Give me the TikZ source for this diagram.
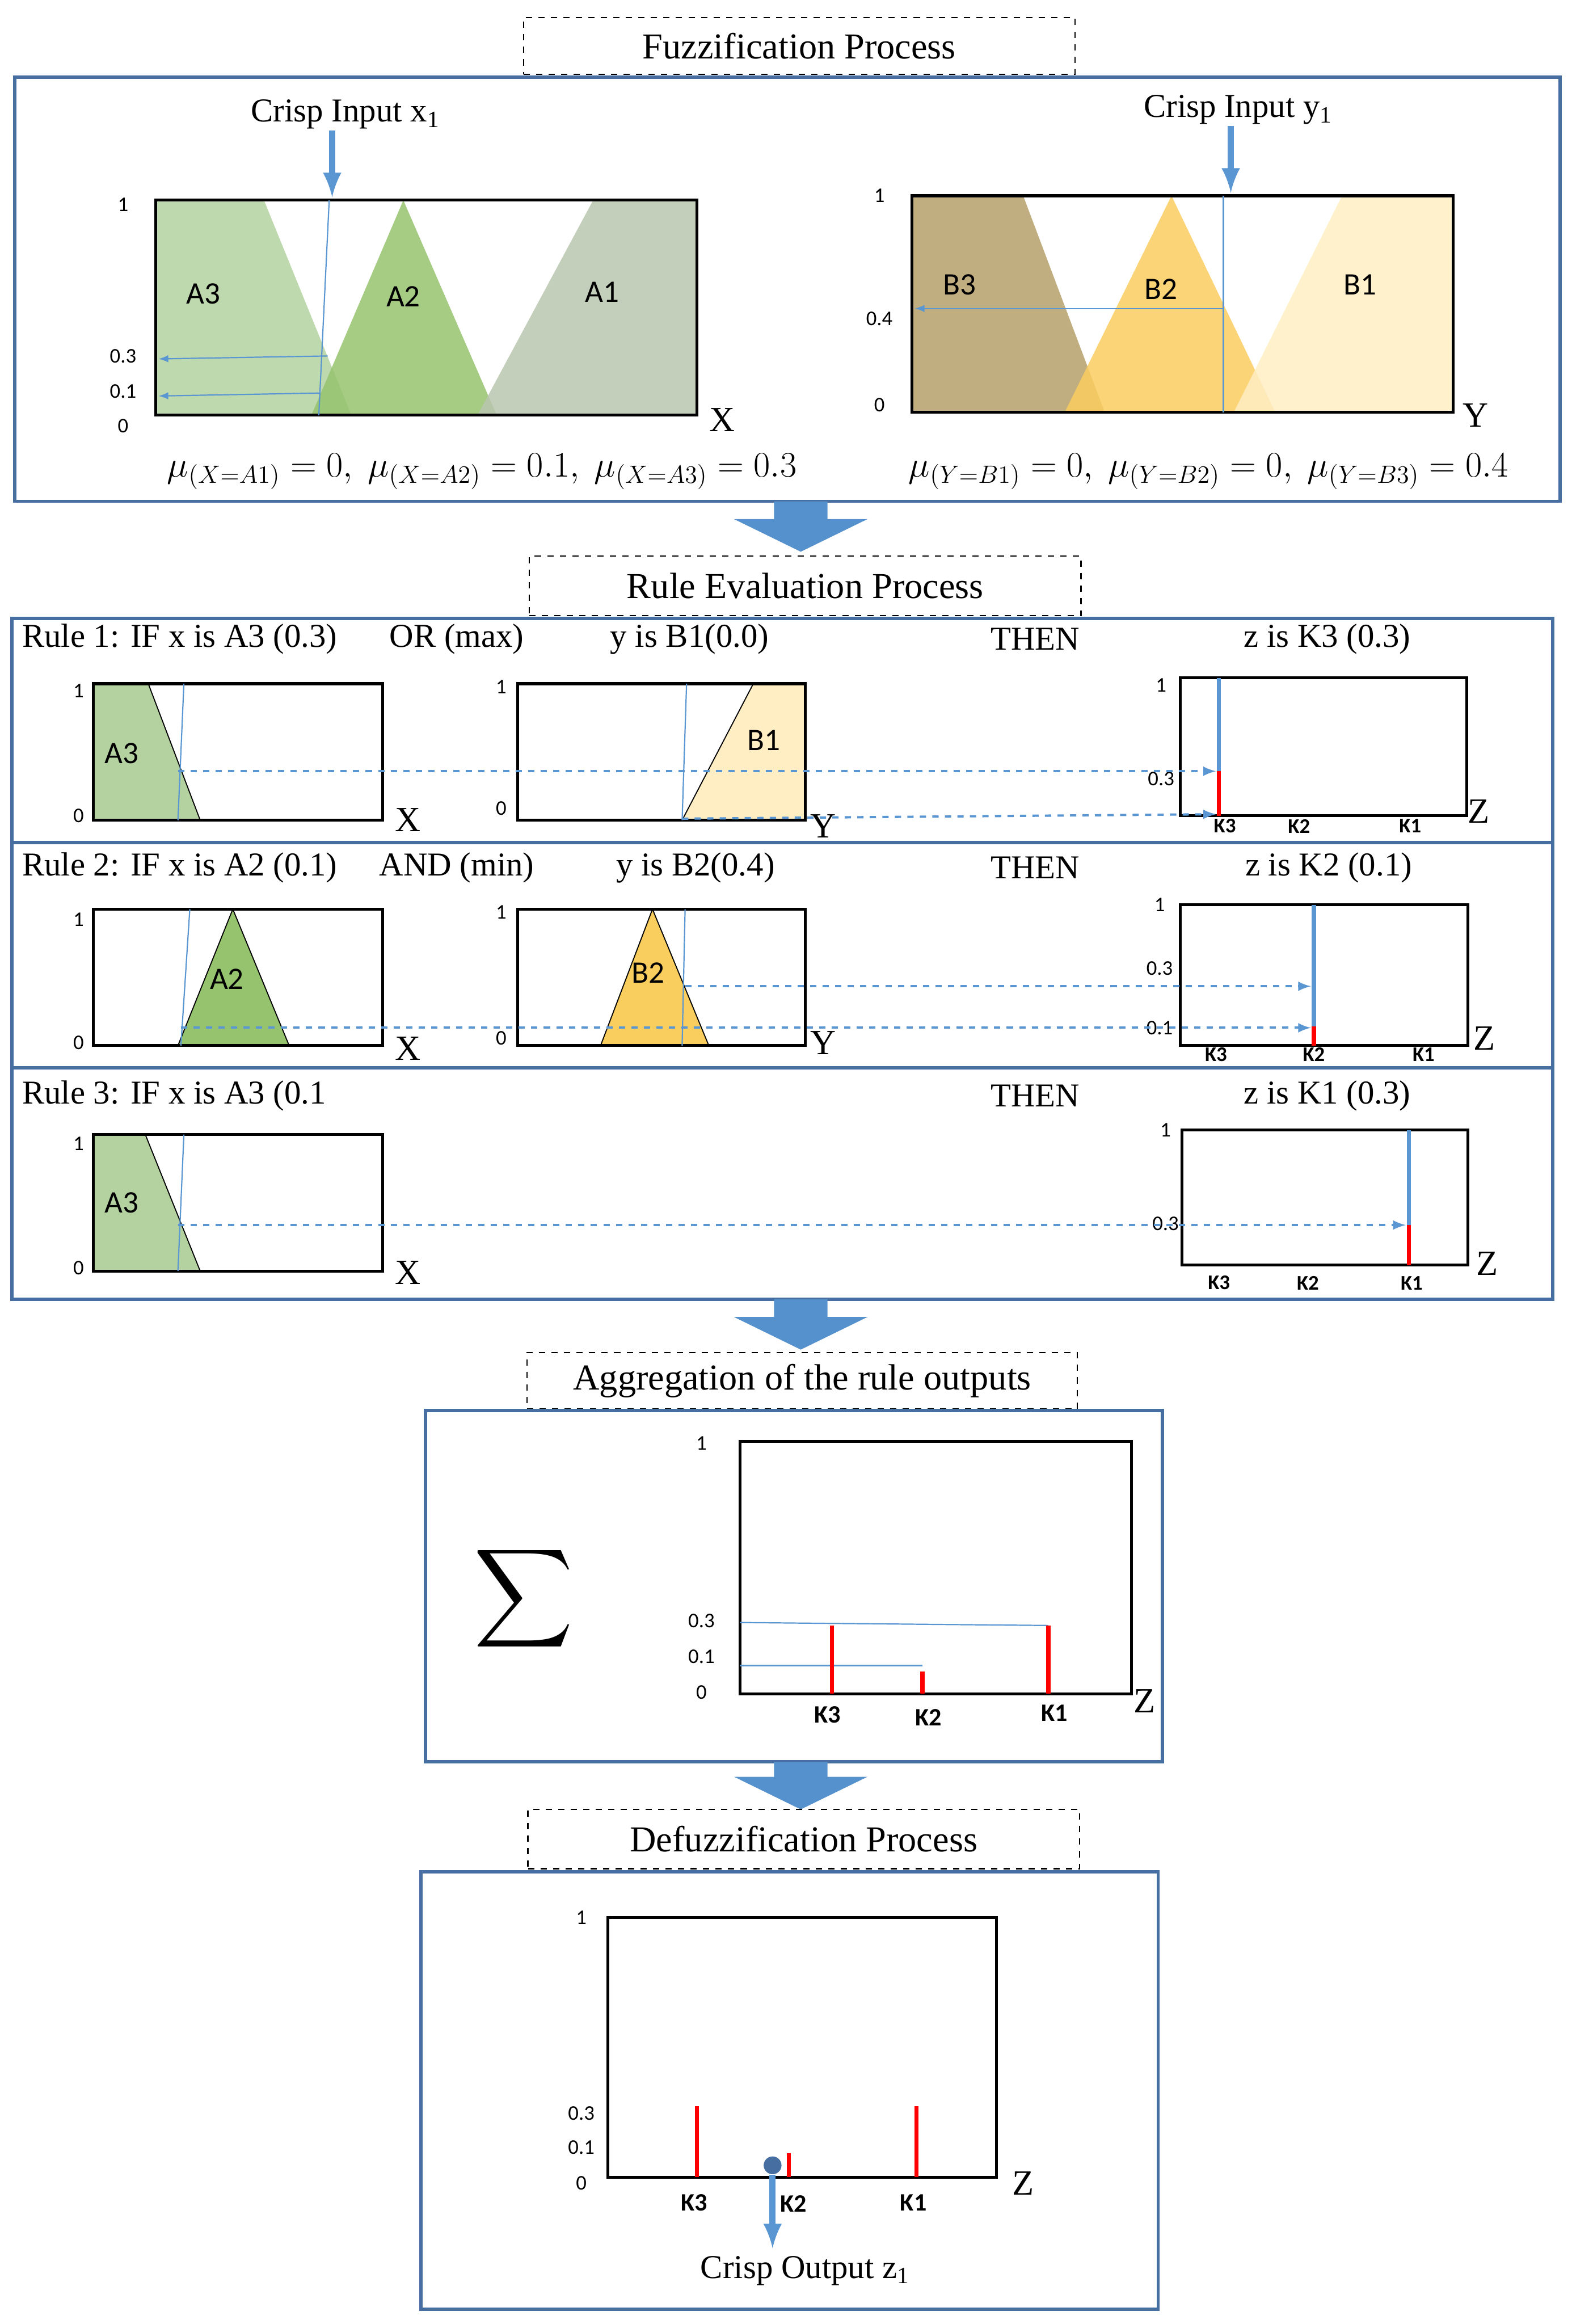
\documentclass[tikz,border=0pt]{standalone}
\usepackage{fontspec}
\setmainfont{Liberation Serif}
\newfontfamily\sans{Carlito}
\begin{document}
\begin{tikzpicture}[x=0.025cm,y=-0.025cm,
 frame/.style={draw=frameblue,line width=1.6pt},
 dbox/.style={draw,dashed,line width=0.6pt},
 plot/.style={draw,line width=1.4pt},
 hd/.style={font=\fontsize{17.5}{19}\selectfont},
 rt/.style={font=\fontsize{16}{18}\selectfont},
 lab/.style={font=\sans\fontsize{15}{17}\selectfont},
 ax/.style={font=\sans\fontsize{10}{11}\selectfont},
 kx/.style={font=\sans\bfseries\fontsize{10}{11}\selectfont},
 kb/.style={font=\sans\bfseries\fontsize{12}{13}\selectfont},
 big/.style={font=\fontsize{17}{19}\selectfont},
 thin/.style={draw=lineblue,line width=0.6pt},
 darr/.style={draw=lineblue,dashed,line width=1.1pt,-latex},
 bl/.style={draw=lineblue,line width=2pt},
 rd/.style={draw=red,line width=2pt},
 blk/.style={fill=arrowblue,draw=none}]
\definecolor{frameblue}{RGB}{70,110,160}
\definecolor{lineblue}{RGB}{90,150,210}
\definecolor{arrowblue}{RGB}{85,145,205}
\definecolor{ga}{RGB}{180,210,160}
\definecolor{gb}{RGB}{150,195,110}
\definecolor{gc}{RGB}{185,198,175}
\definecolor{ba}{RGB}{185,165,115}
\definecolor{bb}{RGB}{250,205,95}
\definecolor{bc}{RGB}{255,238,195}
\useasboundingbox (0,0) rectangle (1060,1567);
% ---------- Fuzzification
\node[dbox,minimum width=372*0.025cm,minimum height=38*0.025cm,hd] (t1) at (539,31) {Fuzzification Process};
\draw[frame] (10,52) rectangle (1052,338);
\fill[ga,opacity=.85] (105,135)--(178,135)--(237,280)--(105,280)--cycle;
\fill[gb,opacity=.85] (210,280)--(272,135)--(335,280)--cycle;
\fill[gc,opacity=.85] (322,280)--(400,135)--(470,135)--(470,280)--cycle;
\draw[plot] (105,135) rectangle (470,280);
\node[lab] (la3) at (137,198) {A3};
\node[lab] (la2) at (272,200) {A2};
\node[lab] (la1) at (406,197) {A1};
\node[ax] (a1) at (83,138) {1};
\node[ax] (a2) at (83,240) {0.3};
\node[ax] (a3) at (83,264) {0.1};
\node[ax] (a4) at (83,287) {0};
\node[big] (lx) at (487,283) {X};
\node[rt] (cx) at (233,77) {Crisp Input x\textsubscript{1}};
\draw[lineblue,line width=3pt,-latex] (224,88)--(224,133);
\draw[thin] (222,135)--(215,280);
\draw[thin,-latex] (221,240)--(107,242);
\draw[thin,-latex] (216,265)--(107,267);
\node[big] (fx) at (325,318) {$\mu_{(X=A1)}=0,\ \mu_{(X=A2)}=0.1,\ \mu_{(X=A3)}=0.3$};
\fill[ba,opacity=.9] (615,132)--(690,132)--(745,278)--(615,278)--cycle;
\fill[bb,opacity=.85] (718,278)--(790,132)--(860,278)--cycle;
\fill[bc,opacity=.85] (832,278)--(905,132)--(980,132)--(980,278)--cycle;
\draw[plot] (615,132) rectangle (980,278);
\node[lab] (lb3) at (647,192) {B3};
\node[lab] (lb2) at (783,195) {B2};
\node[lab] (lb1) at (917,192) {B1};
\node[ax] (b1) at (593,132) {1};
\node[ax] (b2) at (593,215) {0.4};
\node[ax] (b3) at (593,273) {0};
\node[big] (ly) at (995,280) {Y};
\node[rt] (cy) at (835,74) {Crisp Input y\textsubscript{1}};
\draw[lineblue,line width=3pt,-latex] (830,85)--(830,130);
\draw[thin] (825,132)--(825,278);
\draw[thin,-latex] (825,208)--(617,208);
\node[big] (fy) at (815,318) {$\mu_{(Y=B1)}=0,\ \mu_{(Y=B2)}=0,\ \mu_{(Y=B3)}=0.4$};
\fill[blk] (522,338)--(558,338)--(558,350)--(585,350)--(540,372)--(495,350)--(522,350)--cycle;
% ---------- Rule evaluation
\node[dbox,minimum width=372*0.025cm,minimum height=40*0.025cm,hd] (t2) at (543,395) {Rule Evaluation Process};
\draw[frame] (8,417) rectangle (1047,876);
\draw[frame] (8,568)--(1047,568);
\draw[frame] (8,720)--(1047,720);
% rule 1
\node[rt,anchor=west] (r1a) at (10,431) {Rule 1: IF x is A3 (0.3)};
\node[rt] (r1b) at (308,431) {OR (max)};
\node[rt] (r1c) at (465,431) {y is B1(0.0)};
\node[rt] (r1d) at (698,431) {THEN};
\node[rt] (r1e) at (895,431) {z is K3 (0.3)};
\fill[ga] (63,461)--(100,461)--(135,553)--(63,553)--cycle;
\draw[black,line width=0.5pt] (100,461)--(135,553);
\draw[plot] (63,461) rectangle (258,553);
\draw[thin] (124,461)--(120,553);
\node[lab] at (82,508) {A3};
\node[ax] at (53,466) {1};
\node[ax] at (53,550) {0};
\node[big] at (275,553) {X};
\fill[bc] (460,553)--(508,461)--(543,461)--(543,553)--cycle;
\draw[black,line width=0.5pt] (460,553)--(508,461);
\draw[plot] (349,461) rectangle (543,553);
\draw[thin] (463,461)--(460,553);
\node[lab] at (515,499) {B1};
\node[ax] at (338,463) {1};
\node[ax] at (338,545) {0};
\node[big] at (555,557) {Y};
\draw[plot] (796,457) rectangle (989,550);
\draw[bl] (822,457)--(822,520);
\draw[rd] (822,520)--(822,550);
\node[ax] at (783,462) {1};
\node[ax] at (783,525) {0.3};
\node[kx] at (826,557) {K3};
\node[kx] at (876,557) {K2};
\node[kx] at (951,557) {K1};
\node[big] at (997,547) {Z};
\draw[darr] (120,520)--(820,520);
\draw[darr] (460,552)--(820,549);
% rule 2
\node[rt,anchor=west] at (10,585) {Rule 2: IF x is A2 (0.1)};
\node[rt] at (308,585) {AND (min)};
\node[rt] at (469,585) {y is B2(0.4)};
\node[rt] at (698,585) {THEN};
\node[rt] at (896,585) {z is K2 (0.1)};
\fill[gb] (120,705)--(157,613)--(195,705)--cycle;
\draw[black,line width=0.5pt] (120,705)--(157,613)--(195,705);
\draw[plot] (63,613) rectangle (258,705);
\draw[thin] (128,613)--(122,705);
\node[lab] at (153,660) {A2};
\node[ax] at (53,620) {1};
\node[ax] at (53,703) {0};
\node[big] at (275,707) {X};
\fill[bb] (405,705)--(440,613)--(478,705)--cycle;
\draw[black,line width=0.5pt] (405,705)--(440,613)--(478,705);
\draw[plot] (349,613) rectangle (543,705);
\draw[thin] (462,613)--(460,705);
\node[lab] at (437,656) {B2};
\node[ax] at (338,615) {1};
\node[ax] at (338,700) {0};
\node[big] at (555,703) {Y};
\draw[plot] (796,610) rectangle (990,705);
\draw[bl] (886,610)--(886,692);
\draw[rd] (886,692)--(886,705);
\node[ax] at (782,610) {1};
\node[ax] at (782,653) {0.3};
\node[ax] at (782,693) {0.1};
\node[kx] at (820,711) {K3};
\node[kx] at (886,711) {K2};
\node[kx] at (960,711) {K1};
\node[big] at (1001,700) {Z};
\draw[darr] (462,665)--(884,665);
\draw[darr] (122,693)--(884,693);
% rule 3
\node[rt,anchor=west] at (10,739) {Rule 3: IF x is A3 (0.1};
\node[rt] at (698,739) {THEN};
\node[rt] at (895,739) {z is K1 (0.3)};
\fill[ga] (63,765)--(98,765)--(135,857)--(63,857)--cycle;
\draw[black,line width=0.5pt] (98,765)--(135,857);
\draw[plot] (63,765) rectangle (258,857);
\draw[thin] (124,765)--(120,857);
\node[lab] at (82,811) {A3};
\node[ax] at (53,771) {1};
\node[ax] at (53,855) {0};
\node[big] at (275,858) {X};
\draw[plot] (797,762) rectangle (990,853);
\draw[bl] (950,762)--(950,826);
\draw[rd] (950,826)--(950,853);
\node[ax] at (786,762) {1};
\node[ax] at (786,825) {0.3};
\node[kx] at (822,865) {K3};
\node[kx] at (882,865) {K2};
\node[kx] at (952,865) {K1};
\node[big] at (1003,852) {Z};
\draw[darr] (120,826)--(948,826);
\fill[blk] (522,876)--(558,876)--(558,888)--(585,888)--(540,910)--(495,888)--(522,888)--cycle;
% ---------- Aggregation
\node[dbox,minimum width=371*0.025cm,minimum height=38*0.025cm,hd] (t3) at (541,931) {Aggregation of the rule outputs};
\draw[frame] (287,951) rectangle (784,1188);
\node (sig) at (353,1078) {\scalebox{3.3}{$\displaystyle\sum$}};
\draw[plot] (499,972) rectangle (763,1142);
\node[ax] at (473,973) {1};
\node[ax] at (473,1093) {0.3};
\node[ax] at (473,1117) {0.1};
\node[ax] at (473,1141) {0};
\draw[thin] (499,1094)--(707,1096);
\draw[thin] (499,1123)--(622,1123);
\draw[rd] (561,1096)--(561,1142);
\draw[rd] (622,1127)--(622,1142);
\draw[rd] (707,1096)--(707,1142);
\node[kb] at (558,1156) {K3};
\node[kb] at (626,1158) {K2};
\node[kb] at (711,1155) {K1};
\node[big] at (772,1147) {Z};
\fill[blk] (522,1188)--(558,1188)--(558,1198)--(585,1198)--(540,1220)--(495,1198)--(522,1198)--cycle;
% ---------- Defuzzification
\node[dbox,minimum width=372*0.025cm,minimum height=40*0.025cm,hd] (t4) at (542,1240) {Defuzzification Process};
\draw[frame] (284,1262) rectangle (781,1557);
\draw[plot] (410,1293) rectangle (672,1468);
\node[ax] at (392,1293) {1};
\node[ax] at (392,1425) {0.3};
\node[ax] at (392,1448) {0.1};
\node[ax] at (392,1472) {0};
\draw[rd] (470,1420)--(470,1468);
\draw[rd] (532,1452)--(532,1468);
\draw[rd] (618,1420)--(618,1468);
\node[kb] at (468,1485) {K3};
\node[kb] at (535,1486) {K2};
\node[kb] at (616,1485) {K1};
\node[big] at (690,1472) {Z};
\node[circle,fill=frameblue,inner sep=0pt,minimum size=12*0.025cm] (dot) at (521,1460) {};
\coordinate (out) at (521,1516);
\draw[lineblue,line width=3pt,-latex] (dot)--(out);
\node[rt] (co) at (543,1531) {Crisp Output z\textsubscript{1}};
\end{tikzpicture}
\end{document}
